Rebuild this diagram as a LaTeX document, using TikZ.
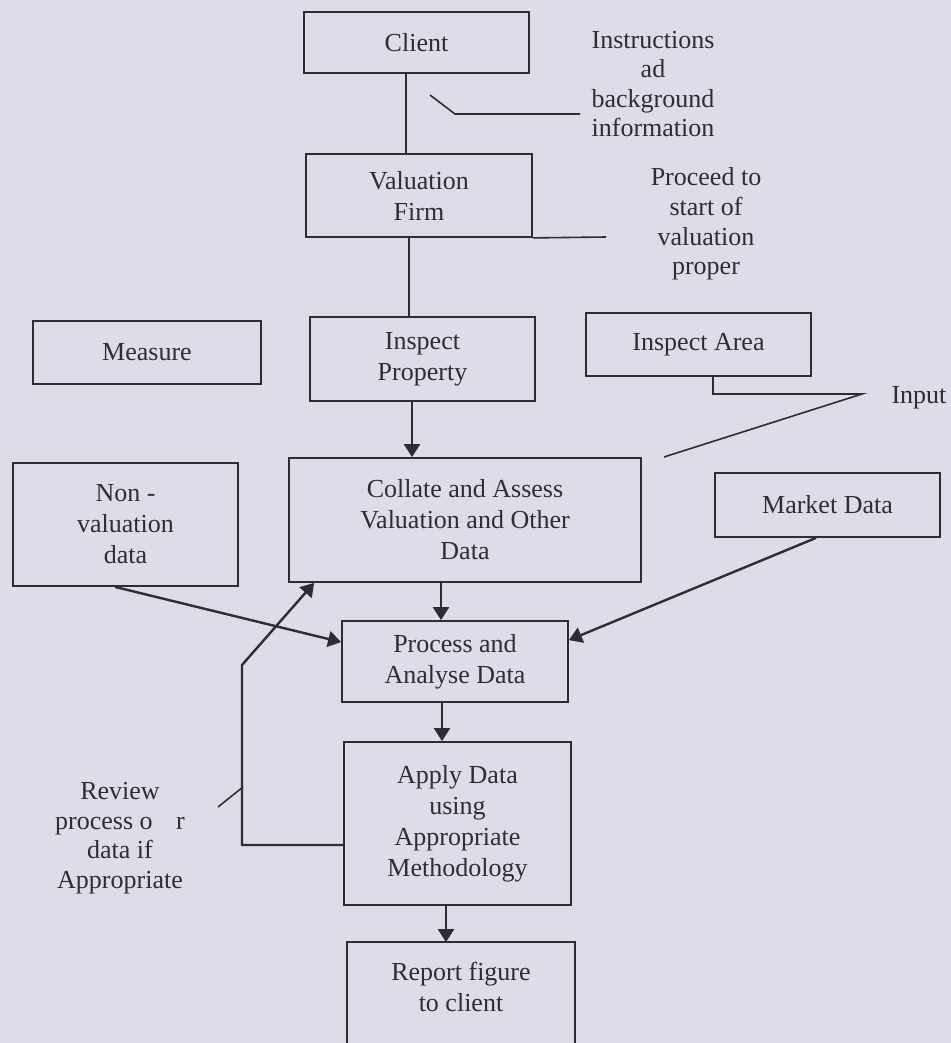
\documentclass[tikz,border=0pt]{standalone}
\usepackage{fontspec}
\setmainfont{Liberation Serif}
\usetikzlibrary{arrows.meta}
\definecolor{paper}{RGB}{221,221,234}
\definecolor{ink}{RGB}{45,45,52}
\begin{document}
\begin{tikzpicture}
[x=0.5pt, y=-0.5pt,
frame/.style={draw=ink, line width=0.9pt},
box/.style={frame, rectangle, inner sep=0pt, minimum width=112.5pt, align=center, text=ink, font=\fontsize{13pt}{15.5pt}\selectfont},
note/.style={inner sep=0pt, align=center, text=ink, font=\fontsize{13pt}{14.8pt}\selectfont},
flow/.style={draw=ink, line width=1.2pt, -{Triangle[length=6.5pt,width=8pt]}},
link/.style={draw=ink, line width=0.8pt}]
\clip (0,0) rectangle (951,1043);
\fill[paper] (0,0) rectangle (951,1043);
\node[box, minimum height=30.5pt] (client) at (416.5,42.5) {Client};
\node[box, minimum width=113pt, minimum height=41.5pt] (firm) at (419,195.5) {Valuation\\Firm};
\node[box, minimum width=114pt, minimum height=31.5pt] (measure) at (147,352.5) {Measure};
\node[box, minimum height=42pt] (inspect) at (422.5,359) {Inspect\\Property};
\node[box, minimum height=31.5pt] (area) at (698.5,344.5) {Inspect Area};
\node[box, minimum height=61.5pt] (nonval) at (125.5,524.5) {Non -\\valuation\\data};
\node[box, minimum width=176pt, minimum height=62pt] (collate) at (465,520) {Collate and Assess\\Valuation and Other\\Data};
\node[box, minimum height=32pt] (market) at (827.5,505) {Market Data};
\node[box, minimum width=113pt, minimum height=40.5pt] (process) at (455,661.5) {Process and\\Analyse Data};
\node[box, minimum width=113.5pt, minimum height=81.5pt] (apply) at (457.5,823.5) {Apply Data\\using\\Appropriate\\Methodology};
\node[box, draw=none, minimum width=113pt, minimum height=44pt] (report) at (461,987) {Report figure\\to client};
\node[note] (instr) at (653,84) {Instructions\\ad\\background\\information};
\node[note] (proceed) at (706,224) {Proceed to\\start of\\valuation\\proper};
\node[note] (input) at (919,398) {Input};
\node[note] (review) at (120,838) {Review\\process o\hspace{0.9em}r\\data if\\Appropriate};
\coordinate (instrA) at (430,95);
\coordinate (instrB) at (455,114);
\coordinate (instrC) at (580,114);
\coordinate (proceedend) at (606,237);
\coordinate (inputtip) at (862,394);
\coordinate (inputend) at (664,457);
\coordinate (fbcorner) at (242,665);
\coordinate (reviewA) at (218,807);
\coordinate (reviewB) at (243,787);
\draw[frame] ([yshift=-12pt]report.south west) -- (report.north west) -- (report.north east) -- ([yshift=-12pt]report.south east);
\draw[link] ([xshift=-5.25pt]client.south) -- ([xshift=-5.25pt]client.south |- firm.north);
\draw[link] (instrA) -- (instrB) -- (instrC);
\draw[link] ([xshift=-5pt]firm.south) -- ([xshift=-5pt]firm.south |- inspect.north);
\draw[link] (firm.south east) -- (proceedend);
\draw[link] ([xshift=7.25pt]area.south) |- (inputtip) -- (inputend);
\draw[flow] ([xshift=-5.25pt]inspect.south) -- ([xshift=-5.25pt]inspect.south |- collate.north);
\draw[flow] ([xshift=-7pt]process.north |- collate.south) -- ([xshift=-7pt]process.north);
\draw[flow] ([xshift=-5.25pt]nonval.south) -- ([yshift=-11pt]process.north west);
\draw[flow] ([xshift=-5.75pt]market.south) -- ([yshift=-10pt]process.north east);
\draw[flow] ([yshift=-10.75pt]apply.west) -| (fbcorner) -- ([xshift=13pt]collate.south west);
\draw[link] (reviewA) -- (reviewB);
\draw[flow] ([xshift=-6.5pt]process.south) -- ([xshift=-6.5pt]process.south |- apply.north);
\draw[flow] ([xshift=-5.75pt]apply.south) -- ([xshift=-5.75pt]apply.south |- report.north);
\end{tikzpicture}
\end{document}
